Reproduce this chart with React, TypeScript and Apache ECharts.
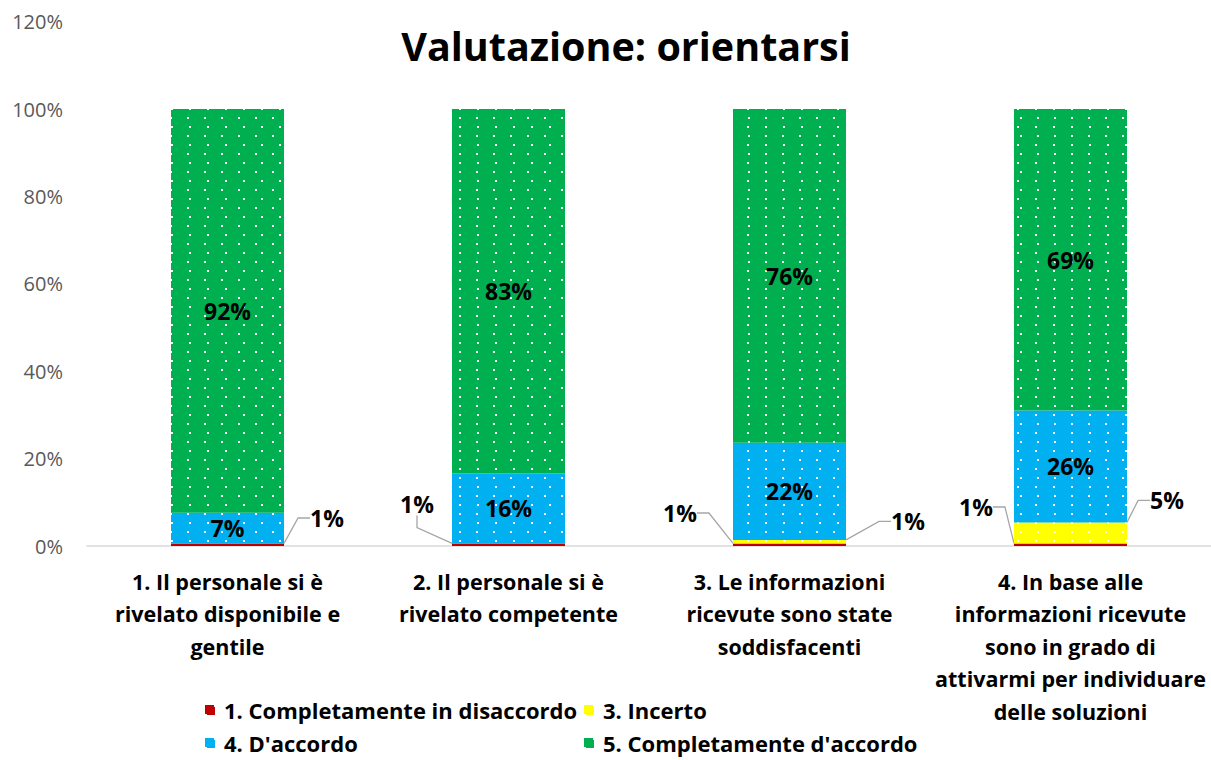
import React, { useEffect, useRef } from "react";
import * as echarts from "echarts";

const title = "Valutazione: orientarsi";
const categories = [
  "1. Il personale si è\nrivelato disponibile e\ngentile",
  "2. Il personale si è\nrivelato competente",
  "3. Le informazioni\nricevute sono state\nsoddisfacenti",
  "4. In base alle\ninformazioni ricevute\nsono in grado di\nattivarmi per individuare\ndelle soluzioni",
];
const seriesNames = [
  "1. Completamente in disaccordo",
  "3. Incerto",
  "4. D'accordo",
  "5. Completamente d'accordo",
];
const disaccordo = [0.6, 0.6, 0.6, 0.6];
const incerto = [0, 0, 0.8, 4.8];
const accordo = [7.0, 16.0, 22.2, 25.6];
const completamente = [92.4, 83.4, 76.4, 69.0];
const yTicks = [0, 20, 40, 60, 80, 100, 120];

const colors = ["#C00000", "#FFFF00", "#00B0F0", "#00B050"];
const FONT = "'Open Sans', sans-serif";

// label offsets for small outside labels (relative to bar rect), per category
const redOffsets = [
  { side: "right", dx: 43, dy: -28 },
  { side: "left", dx: -35, dy: -42 },
  { side: "left", dx: -53, dy: -33 },
  { side: "left", dx: -38, dy: -39 },
];
const yellowOffsets = [
  { side: "right", dx: 40, dy: -28 },
  { side: "right", dx: 40, dy: -28 },
  { side: "right", dx: 62, dy: -22 },
  { side: "right", dx: 40, dy: -43 },
];

export default function App() {
  const ref = useRef<HTMLDivElement>(null);
  useEffect(() => {
    if (!ref.current) return;
    const chart = echarts.init(ref.current, undefined, { renderer: "svg" });
    const decal = {
      symbol: "rect",
      symbolSize: 1,
      color: "rgba(255,255,255,0.95)",
      dashArrayX: [
        [2, 15],
        [0, 8.5, 2, 6.5],
      ],
      dashArrayY: [2, 6.3],
      rotation: 0,
    };
    const pctFmt = (p: any) => Math.round(p.value) + "%";
    const labelStyle = {
      fontFamily: FONT,
      fontWeight: "bold",
      fontSize: 23,
      color: "#000",
    };
    const mkSmallLayout = (offs: any[]) => (params: any) => {
      const o = offs[params.dataIndex];
      const r = params.rect;
      const base = r.y + r.height;
      const x = o.side === "right" ? r.x + r.width + o.dx : r.x + o.dx;
      return { x, y: base + o.dy, align: "center", verticalAlign: "middle" };
    };
    const smallData = (arr: number[]) =>
      arr.map((v) =>
        v > 0
          ? v
          : { value: v, label: { show: false }, labelLine: { show: false } }
      );
    const common = {
      type: "bar",
      stack: "total",
      barWidth: 113,
    };
    const labelLine = {
      show: true,
      length2: 12,
      lineStyle: { color: "#A6A6A6", width: 1.3 },
    };
    chart.setOption({
      animation: false,
      title: {
        text: title,
        left: 621,
        top: 21,
        textAlign: "center",
        textStyle: {
          fontFamily: FONT,
          fontWeight: "bold",
          fontSize: 39.5,
          color: "#000",
        },
      },
      grid: { left: 87, right: -8, top: 21.6, bottom: 214, containLabel: false },
      legend: [0, 1, 2, 3].map((i) => ({
        data: [seriesNames[i]],
        left: i % 2 === 0 ? 200 : 579,
        top: i < 2 ? 694 : 727,
        icon: "rect",
        itemWidth: 10,
        itemHeight: 10,
        selectedMode: false,
        textStyle: {
          fontFamily: FONT,
          fontWeight: "bold",
          fontSize: 22,
          color: "#000",
          padding: [0, 0, 0, 4],
        },
      })),
      xAxis: {
        type: "category",
        data: categories,
        axisLine: { lineStyle: { color: "#D9D9D9", width: 1.5 } },
        axisTick: { show: false },
        axisLabel: {
          interval: 0,
          margin: 19,
          fontFamily: FONT,
          fontWeight: "bold",
          fontSize: 21.5,
          lineHeight: 32.5,
          color: "#000",
        },
      },
      yAxis: {
        type: "value",
        min: yTicks[0],
        max: yTicks[yTicks.length - 1],
        interval: 20,
        splitLine: { show: false },
        axisLine: { show: false },
        axisTick: { show: false },
        axisLabel: {
          formatter: "{value}%",
          margin: 24,
          fontFamily: FONT,
          fontSize: 20,
          color: "#595959",
        },
      },
      series: [
        {
          ...common,
          name: seriesNames[0],
          data: smallData(disaccordo),
          itemStyle: { color: colors[0], decal },
          label: { show: true, position: "inside", formatter: pctFmt, ...labelStyle },
          labelLayout: mkSmallLayout(redOffsets),
          labelLine,
        },
        {
          ...common,
          name: seriesNames[1],
          data: smallData(incerto),
          itemStyle: { color: colors[1], decal },
          label: { show: true, position: "inside", formatter: pctFmt, ...labelStyle },
          labelLayout: mkSmallLayout(yellowOffsets),
          labelLine,
        },
        {
          ...common,
          name: seriesNames[2],
          data: accordo,
          itemStyle: { color: colors[2], decal },
          label: { show: true, position: "inside", formatter: pctFmt, ...labelStyle },
        },
        {
          ...common,
          name: seriesNames[3],
          data: completamente,
          itemStyle: { color: colors[3], decal },
          label: { show: true, position: "inside", formatter: pctFmt, ...labelStyle },
        },
      ],
    });
    return () => chart.dispose();
  }, []);
  return (
    <div
      ref={ref}
      style={{ position: "fixed", left: 0, top: 0, width: 1211, height: 760, background: "#fff" }}
    />
  );
}
